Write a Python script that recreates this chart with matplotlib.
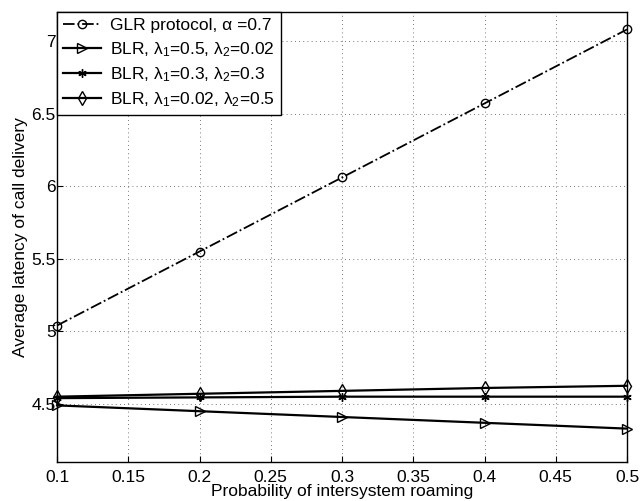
import matplotlib
matplotlib.use("Agg")
import matplotlib.pyplot as plt

plt.rcParams["font.family"] = ["Liberation Sans", "DejaVu Sans"]
plt.rcParams["mathtext.fontset"] = "custom"
plt.rcParams["mathtext.rm"] = "Liberation Sans"
plt.rcParams["mathtext.it"] = "Liberation Sans"

# data
p_roam = [0.1, 0.2, 0.3, 0.4, 0.5]
glr = [5.04, 5.55, 6.06, 6.57, 7.08]
blr_a = [4.49, 4.45, 4.41, 4.37, 4.33]
blr_b = [4.54, 4.545, 4.55, 4.55, 4.55]
blr_c = [4.55, 4.57, 4.59, 4.61, 4.625]

labels = [
    "GLR protocol, α =0.7",
    r"BLR, λ$_1$=0.5, λ$_2$=0.02",
    r"BLR, λ$_1$=0.3, λ$_2$=0.3",
    r"BLR, λ$_1$=0.02, λ$_2$=0.5",
]
x_ticks = [0.1, 0.15, 0.2, 0.25, 0.3, 0.35, 0.4, 0.45, 0.5]
x_tick_labels = ["0.1", "0.15", "0.2", "0.25", "0.3", "0.35", "0.4", "0.45", "0.5"]
y_ticks = [4.5, 5, 5.5, 6, 6.5, 7]
y_tick_labels = ["4.5", "5", "5.5", "6", "6.5", "7"]

FS = 12.5

fig = plt.figure(figsize=(6.42, 5.01), dpi=100)
ax = fig.add_axes([57 / 642, 1 - 462 / 501, 570 / 642, 450 / 501])

ax.plot(p_roam, glr, color="black", linestyle="-.", linewidth=1.3, clip_on=False,
        marker="o", markersize=6, markerfacecolor="none", label=labels[0])
ax.plot(p_roam, blr_a, color="black", linestyle="-", linewidth=1.6, clip_on=False,
        marker=">", markersize=7, markerfacecolor="none", label=labels[1])
ax.plot(p_roam, blr_b, color="black", linestyle="-", linewidth=1.6, clip_on=False,
        marker=(6, 2, 0), markersize=6, label=labels[2])
ax.plot(p_roam, blr_c, color="black", linestyle="-", linewidth=1.6, clip_on=False,
        marker="d", markersize=7, markerfacecolor="none", label=labels[3])

ax.set_xlim(0.1, 0.5)
ax.set_ylim(4.1, 7.2)
ax.set_xticks(x_ticks)
ax.set_xticklabels(x_tick_labels)
ax.set_yticks(y_ticks)
ax.set_yticklabels(y_tick_labels)
ax.tick_params(axis="both", labelsize=FS, direction="in", length=4)
ax.tick_params(axis="y", pad=1)
ax.tick_params(axis="x", pad=6)
ax.grid(True, linestyle=(0, (1, 4)), color="black", linewidth=0.6, alpha=0.7)
for sp in ax.spines.values():
    sp.set_linewidth(1.0)

ax.set_xlabel("Probability of intersystem roaming", fontsize=FS, labelpad=-1)
ax.set_ylabel("Average latency of call delivery", fontsize=FS, labelpad=2)

leg = ax.legend(loc="upper left", borderaxespad=0, fontsize=FS, fancybox=False,
                framealpha=1, edgecolor="black", handlelength=2.2,
                labelspacing=0.38, borderpad=0.35, handletextpad=0.5)
leg.get_frame().set_linewidth(1.0)

fig.savefig("out.png", dpi=100)
